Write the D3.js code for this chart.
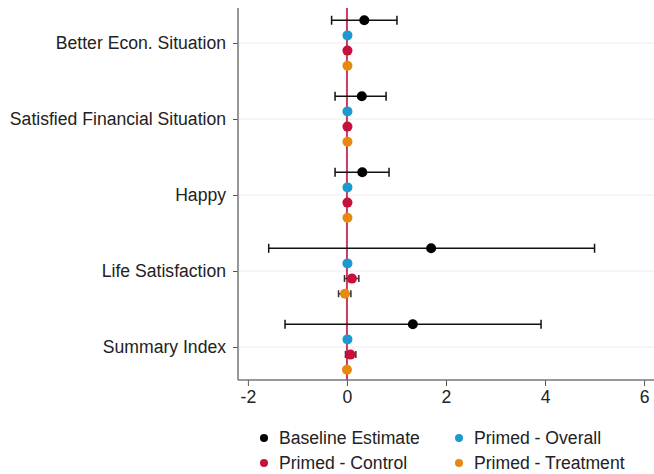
<!DOCTYPE html>
<html>
<head>
<meta charset="utf-8">
<script src="https://cdn.jsdelivr.net/npm/d3@7"></script>
<style>
  body { margin: 0; background: #fff; }
  svg { font-family: "Liberation Sans", Arial, sans-serif; }
</style>
</head>
<body>
<svg id="chart" width="654" height="474"></svg>
<script>
// outcomes, top to bottom
const categories = ['Better Econ. Situation', 'Satisfied Financial Situation', 'Happy', 'Life Satisfaction', 'Summary Index'];
const seriesNames = ['Baseline Estimate', 'Primed - Overall', 'Primed - Control', 'Primed - Treatment'];
const seriesColors = ['#000000', '#1c9ad0', '#c8103c', '#e8890f'];
const xTicks = [-2, 0, 2, 4, 6];

// estimate, lower CI, upper CI per outcome (null = no visible CI)
const baseline = [
  [0.35, -0.31, 1.01],
  [0.30, -0.24, 0.79],
  [0.31, -0.24, 0.85],
  [1.70, -1.58, 5.00],
  [1.33, -1.25, 3.92]
];
const primedOverall = [
  [0.01, null, null],
  [0.01, null, null],
  [0.01, null, null],
  [0.01, null, null],
  [0.01, null, null]
];
const primedControl = [
  [0.01, null, null],
  [0.01, null, null],
  [0.01, null, null],
  [0.10, -0.05, 0.24],
  [0.07, -0.03, 0.18]
];
const primedTreatment = [
  [0.01, null, null],
  [0.01, null, null],
  [0.01, null, null],
  [-0.04, -0.17, 0.08],
  [0.00, null, null]
];

const allSeries = [baseline, primedOverall, primedControl, primedTreatment];
const offsets = [-22.7, -7.6, 7.6, 22.7];

const svg = d3.select('#chart'),
  width = +svg.attr('width'),
  height = +svg.attr('height');

const margin = {left: 238, right: 2, top: 8, bottom: 94};

const x = d3.scaleLinear()
  .domain([-2.2, 6.16])
  .range([margin.left, width - margin.right]);

const y = d3.scalePoint()
  .domain(categories)
  .range([43, 347]);

const g = svg.append('g');

// light horizontal grid lines
g.selectAll('.grid')
  .data(categories)
  .enter().append('line')
  .attr('x1', margin.left)
  .attr('x2', width)
  .attr('y1', d => y(d))
  .attr('y2', d => y(d))
  .style('stroke', '#ececec')
  .attr('stroke-width', 1);

// y axis
const yAxis = g.append('g')
  .attr('transform', 'translate(' + margin.left + ',0)')
  .call(d3.axisLeft(y).tickSize(5).tickPadding(7));
yAxis.select('.domain').remove();
yAxis.selectAll('.tick line').style('stroke', '#555');
yAxis.selectAll('.tick text').style('font-size', '17.6px').style('fill', '#222');
g.append('line')
  .attr('x1', margin.left).attr('x2', margin.left)
  .attr('y1', margin.top).attr('y2', height - margin.bottom)
  .style('stroke', '#777').attr('stroke-width', 1.5);

// x axis
const xAxis = g.append('g')
  .attr('transform', 'translate(0,' + (height - margin.bottom) + ')')
  .call(d3.axisBottom(x).tickValues(xTicks).tickSize(6).tickPadding(5).tickFormat(d => String(d)));
xAxis.select('.domain').remove();
xAxis.selectAll('.tick line').style('stroke', '#555');
xAxis.selectAll('.tick text').style('font-size', '17.6px').style('fill', '#222');
g.append('line')
  .attr('x1', margin.left).attr('x2', width)
  .attr('y1', height - margin.bottom).attr('y2', height - margin.bottom)
  .style('stroke', '#777').attr('stroke-width', 1.5);

// zero reference line
g.append('line')
  .attr('x1', x(0)).attr('x2', x(0))
  .attr('y1', margin.top).attr('y2', height - margin.bottom)
  .style('stroke', '#c93a5e').attr('stroke-width', 2);

// error bars + points
allSeries.forEach((series, si) => {
  const rows = series.map((d, i) => ({cat: categories[i], est: d[0], lo: d[1], hi: d[2]}));
  const sg = g.append('g');
  const withCI = rows.filter(d => d.lo !== null);
  const cap = si === 0 ? 4.5 : 3.5;

  sg.selectAll('.ci')
    .data(withCI)
    .enter().append('path')
    .attr('d', d => {
      const yy = y(d.cat) + offsets[si];
      return 'M' + x(d.lo) + ',' + yy + 'H' + x(d.hi) +
        'M' + x(d.lo) + ',' + (yy - cap) + 'V' + (yy + cap) +
        'M' + x(d.hi) + ',' + (yy - cap) + 'V' + (yy + cap);
    })
    .style('fill', 'none')
    .style('stroke', si === 0 ? '#111' : '#333')
    .attr('stroke-width', 1.5);

  sg.selectAll('circle')
    .data(rows)
    .enter().append('circle')
    .attr('cx', d => x(d.est))
    .attr('cy', d => y(d.cat) + offsets[si])
    .attr('r', 5)
    .style('fill', seriesColors[si]);
});

// legend
const legendPos = [[264, 438], [459, 438], [264, 463], [459, 463]];
const legend = svg.append('g');
seriesNames.forEach((name, i) => {
  const lg = legend.append('g').attr('transform', 'translate(' + legendPos[i][0] + ',' + legendPos[i][1] + ')');
  lg.append('circle').attr('r', 4).style('fill', seriesColors[i]);
  lg.append('text')
    .attr('x', 15).attr('dy', '0.35em')
    .style('font-size', '17.6px').style('fill', '#222')
    .text(name);
});
</script>
</body>
</html>
